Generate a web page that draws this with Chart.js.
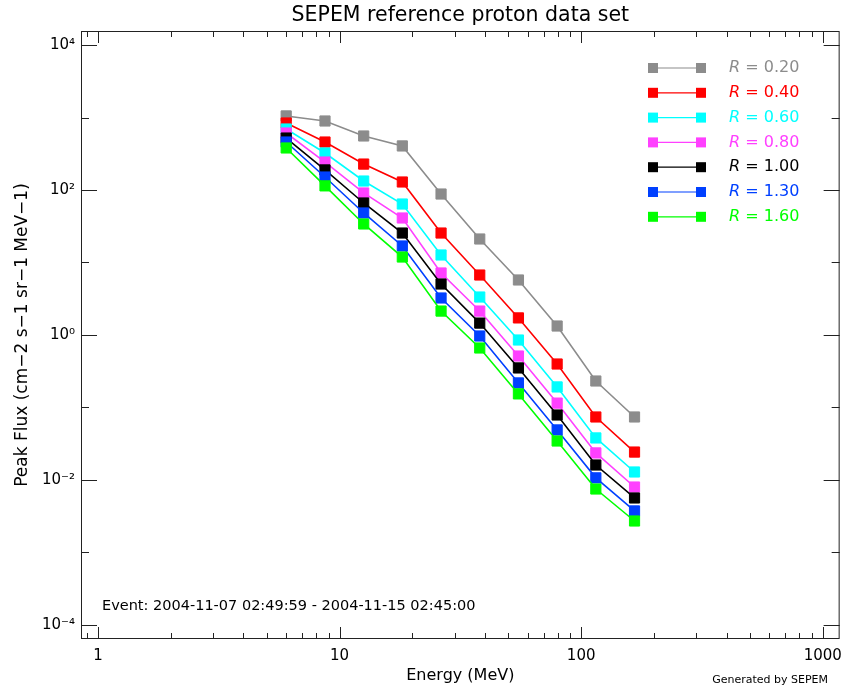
<!DOCTYPE html>
<html>
<head>
<meta charset="utf-8">
<title>SEPEM reference proton data set</title>
<script src="https://cdn.jsdelivr.net/npm/chart.js@4.4.1/dist/chart.umd.min.js"></script>
<style>
  html, body { margin: 0; padding: 0; background: #fff; }
  #wrap { width: 850px; height: 689px; }
</style>
</head>
<body>
<div id="wrap"><canvas id="sepemChart" width="850" height="689"></canvas></div>
<script>
// channel mid energies (MeV)
const energies = [6.01, 8.70, 12.58, 18.18, 26.30, 38.03, 54.99, 79.53, 115.0, 166.3];

// peak flux per R value
const flux020 = [1050, 895, 556, 405, 88, 21.1, 5.74, 1.33, 0.232, 0.074];
const flux040 = [840, 459, 228, 129, 25.5, 6.72, 1.72, 0.398, 0.074, 0.0243];
const flux060 = [694, 324, 133, 64.1, 12.7, 3.34, 0.853, 0.192, 0.038, 0.0129];
const flux080 = [611, 243, 91, 41.1, 7.17, 2.14, 0.513, 0.115, 0.0236, 0.0080];
const flux100 = [521, 189, 66.2, 25.5, 5.05, 1.46, 0.351, 0.0788, 0.0161, 0.00565];
const flux130 = [459, 151, 48.2, 16.9, 3.24, 0.969, 0.218, 0.049, 0.0107, 0.00374];
const flux160 = [380, 114, 34.0, 11.9, 2.14, 0.662, 0.154, 0.0345, 0.00751, 0.00272];

const rLabels = ['0.20', '0.40', '0.60', '0.80', '1.00', '1.30', '1.60'];
const seriesColors = ['#8c8c8c', '#ff0000', '#00ffff', '#ff40ff', '#000000', '#0040ff', '#00ff00'];
const allFlux = [flux020, flux040, flux060, flux080, flux100, flux130, flux160];

const xTickValues = [1, 10, 100, 1000];
const yTickValues = [1e-4, 1e-2, 1, 1e2, 1e4];

const supDigits = { '-': '\u207B', '0': '\u2070', '1': '\u00B9', '2': '\u00B2', '3': '\u00B3', '4': '\u2074' };
function powLabel(v) {
    const e = String(Math.round(Math.log10(v)));
    return '10' + e.split('').map(c => supDigits[c]).join('');
}

const FONT = "'DejaVu Sans', sans-serif";
const FRAME = '#222';

const datasets = allFlux.map((vals, i) => ({
    label: 'R = ' + rLabels[i],
    data: energies.map((e, j) => ({ x: e, y: vals[j] })),
    borderColor: seriesColors[i],
    backgroundColor: seriesColors[i],
    borderWidth: 1.6,
    pointStyle: 'rect',
    pointRadius: 7.2,
    pointBorderWidth: 1,
    pointBorderColor: seriesColors[i],
    pointBackgroundColor: seriesColors[i],
    order: allFlux.length - 1 - i,
    tension: 0
}));

// frame, inward ticks on all four sides, title, legend and notes
const idlDecor = {
    id: 'idlDecor',
    afterDraw(chart) {
        const ctx = chart.ctx;
        const a = chart.chartArea;
        const xs = chart.scales.x;
        const ys = chart.scales.y;
        ctx.save();
        ctx.strokeStyle = FRAME;
        ctx.lineWidth = 1;
        ctx.strokeRect(a.left + 0.5, a.top + 0.5, a.right - a.left - 1, a.bottom - a.top - 1);

        ctx.beginPath();
        for (let k = -1; k <= 3; k++) {
            for (let m = 1; m <= 9; m++) {
                const v = m * Math.pow(10, k);
                if (v < xs.min || v > xs.max) continue;
                const px = Math.round(xs.getPixelForValue(v)) + 0.5;
                const len = m === 1 ? 12 : 6;
                ctx.moveTo(px, a.bottom); ctx.lineTo(px, a.bottom - len);
                ctx.moveTo(px, a.top); ctx.lineTo(px, a.top + len);
            }
        }
        for (let k = -4; k <= 4; k++) {
            const py = Math.round(ys.getPixelForValue(Math.pow(10, k))) + 0.5;
            const len = k % 2 === 0 ? 16 : 8;
            ctx.moveTo(a.left, py); ctx.lineTo(a.left + len, py);
            ctx.moveTo(a.right, py); ctx.lineTo(a.right - len, py);
        }
        ctx.stroke();

        // title
        ctx.fillStyle = '#000';
        ctx.textAlign = 'center';
        ctx.textBaseline = 'middle';
        ctx.font = '20.5px ' + FONT;
        ctx.fillText('SEPEM reference proton data set', (a.left + a.right) / 2, 16);

        // notes
        ctx.textAlign = 'left';
        ctx.font = '14.5px ' + FONT;
        ctx.fillText('Event: 2004-11-07 02:49:59 - 2004-11-15 02:45:00', 102, 606);
        ctx.textAlign = 'right';
        ctx.font = '11px ' + FONT;
        ctx.fillText('Generated by SEPEM', 828, 680);

        // legend
        ctx.textAlign = 'left';
        rLabels.forEach((r, i) => {
            const y = 68 + i * 24.8;
            const c = seriesColors[i];
            ctx.strokeStyle = c;
            ctx.fillStyle = c;
            ctx.lineWidth = 1.2;
            ctx.beginPath();
            ctx.moveTo(653, y); ctx.lineTo(701, y);
            ctx.stroke();
            ctx.fillRect(648, y - 5, 10, 10);
            ctx.fillRect(696, y - 5, 10, 10);
            ctx.font = 'italic 16px ' + FONT;
            ctx.fillText('R', 729, y);
            const w = ctx.measureText('R').width;
            ctx.font = '16px ' + FONT;
            ctx.fillText(' = ' + r, 729 + w, y);
        });
        ctx.restore();
    }
};

new Chart(document.getElementById('sepemChart'), {
    type: 'line',
    data: { datasets },
    options: {
        responsive: false,
        animation: false,
        layout: { padding: { top: 31, right: 7, left: 0, bottom: 0 } },
        plugins: {
            legend: { display: false },
            title: { display: false },
            tooltip: { enabled: false }
        },
        scales: {
            x: {
                type: 'logarithmic',
                position: 'bottom',
                min: 0.85,
                max: 1175,
                afterBuildTicks: s => { s.ticks = xTickValues.map(v => ({ value: v })); },
                afterFit: s => { s.height = 50; },
                grid: { display: false, drawTicks: false },
                border: { display: false },
                ticks: {
                    autoSkip: false,
                    maxRotation: 0,
                    padding: 8,
                    color: '#000',
                    font: { family: FONT, size: 15 },
                    callback: v => String(v)
                },
                title: {
                    display: true,
                    text: 'Energy (MeV)',
                    color: '#000',
                    font: { family: FONT, size: 16 },
                    padding: { top: 0, bottom: 4 }
                }
            },
            y: {
                type: 'logarithmic',
                min: 6.41e-5,
                max: 1.56e4,
                afterBuildTicks: s => { s.ticks = yTickValues.map(v => ({ value: v })); },
                afterFit: s => { s.width = 81; },
                grid: { display: false, drawTicks: false },
                border: { display: false },
                ticks: {
                    autoSkip: false,
                    padding: 6,
                    color: '#000',
                    font: { family: FONT, size: 15 },
                    callback: v => powLabel(v)
                },
                title: {
                    display: true,
                    text: 'Peak Flux (cm\u22122 s\u22121 sr\u22121 MeV\u22121)',
                    color: '#000',
                    font: { family: FONT, size: 17 },
                    padding: { top: 12, bottom: 0 }
                }
            }
        }
    },
    plugins: [idlDecor]
});
</script>
</body>
</html>
